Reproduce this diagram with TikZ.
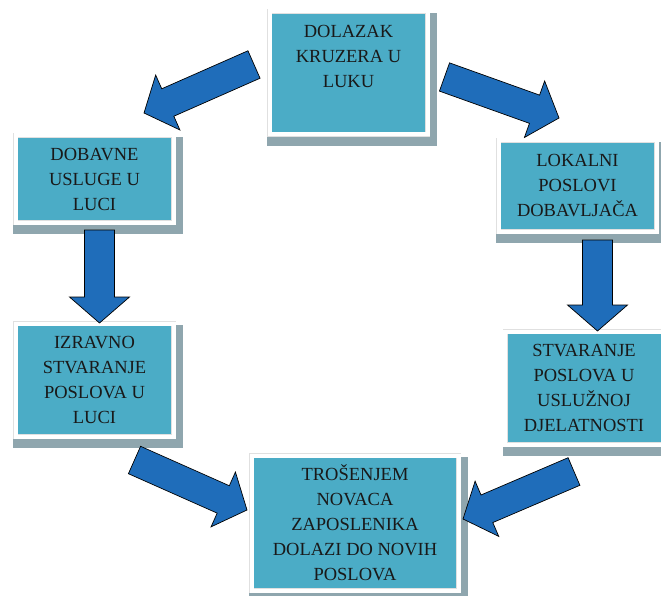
\documentclass[tikz,border=0pt]{standalone}
\usepackage{fontspec}
\setmainfont{Liberation Serif}
\usetikzlibrary{calc,backgrounds}

\definecolor{kutijaplava}{HTML}{4BACC6}
\definecolor{sjenasiva}{HTML}{8FA6AE}
\definecolor{strelicaplava}{HTML}{1F6DBA}

\tikzset{
  kutija/.style={rectangle, fill=kutijaplava, draw=black!12, double=white,
    double distance=4pt, line width=0.5pt, outer sep=2.5pt, inner sep=0pt,
    align=center, text=black!90, font=\fontsize{18.5}{25}\selectfont},
  sjena/.style={fill=sjenasiva},
  strelica/.style={fill=strelicaplava, draw=black, line width=0.7pt, line join=miter},
}

% block arrow from #1 (tail) to #2 (tip)
\newcommand{\blokstrelica}[2]{%
  \coordinate (hb) at ($(#2)!26pt!(#1)$);
  \draw[strelica] ($(#1)!15pt!90:(#2)$) -- ($(hb)!15pt!90:(#2)$)
    -- ($(hb)!30pt!90:(#2)$) -- (#2) -- ($(hb)!30pt!-90:(#2)$)
    -- ($(hb)!15pt!-90:(#2)$) -- ($(#1)!15pt!-90:(#2)$) -- cycle;}

\begin{document}
\begin{tikzpicture}[x=1pt, y=-1pt]
    \useasboundingbox (0,0) rectangle (661,596);

    \node[kutija, minimum width=158pt, minimum height=123pt] (dolazak) at (348.5,73)
        {DOLAZAK\\KRUZERA U\\LUKU\\[8pt]\mbox{}};
    \node[kutija, minimum width=158pt, minimum height=87pt] (dobavne) at (94.5,179)
        {DOBAVNE\\USLUGE U\\LUCI};
    \node[kutija, minimum width=158pt, minimum height=91pt] (lokalni) at (577.5,186)
        {LOKALNI\\POSLOVI\\DOBAVLJAČA};
    \node[kutija, minimum width=158pt, minimum height=113pt] (izravno) at (94.5,380)
        {IZRAVNO\\STVARANJE\\POSLOVA U\\LUCI};
    \node[kutija, minimum width=158pt, minimum height=113pt] (usluzna) at (584,388)
        {STVARANJE\\POSLOVA U\\USLUŽNOJ\\DJELATNOSTI};
    \node[kutija, minimum width=207pt, minimum height=135pt] (trosenje) at (355,523)
        {TROŠENJEM\\NOVACA\\ZAPOSLENIKA\\DOLAZI DO NOVIH\\POSLOVA};

    \begin{scope}[on background layer]
        \foreach \k in {dolazak, dobavne, lokalni, izravno, usluzna, trosenje}
            \fill[sjena] ($(\k.north west)+(0,4)$) rectangle ($(\k.south east)+(7,9)$);
    \end{scope}

    % krajevi strelica
    \coordinate (p1) at (254,64.5);   \coordinate (k1) at (144,113);
    \coordinate (p2) at (444.5,77);   \coordinate (k2) at (559,118);
    \coordinate (p3) at (99.5,230);   \coordinate (k3) at (99.5,323);
    \coordinate (p4) at (597.5,240);  \coordinate (k4) at (597.5,331);
    \coordinate (p5) at (134.5,460);  \coordinate (k5) at (247,510);
    \coordinate (p6) at (574,471.5);  \coordinate (k6) at (463,519);

    \blokstrelica{p1}{k1}
    \blokstrelica{p2}{k2}
    \blokstrelica{p3}{k3}
    \blokstrelica{p4}{k4}
    \blokstrelica{p5}{k5}
    \blokstrelica{p6}{k6}
\end{tikzpicture}
\end{document}
